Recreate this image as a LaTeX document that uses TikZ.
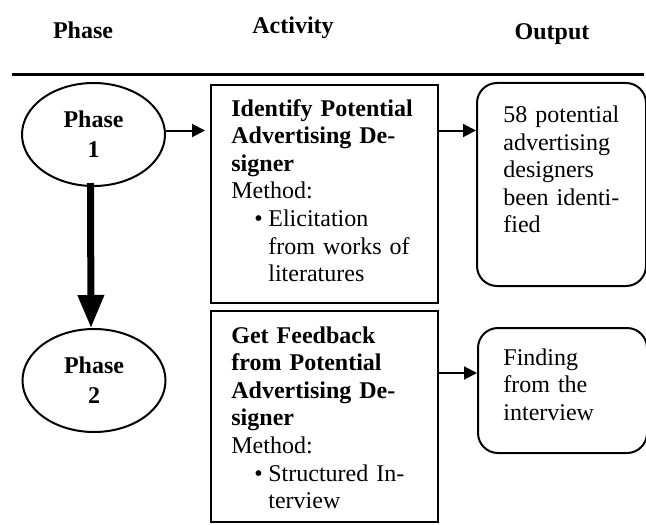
\documentclass[tikz,border=0pt]{standalone}
\usepackage{fontspec}
\setmainfont{Liberation Serif}
\usetikzlibrary{shapes.geometric,arrows.meta}
\begin{document}
\begin{tikzpicture}[x=0.5pt,y=-0.5pt,
  head/.style={anchor=base, inner sep=0pt, font=\fontsize{12}{13.8}\selectfont\bfseries},
  phase/.style={ellipse, draw, line width=1pt, minimum width=71.5pt, minimum height=51.5pt,
    inner sep=0pt, align=center, font=\fontsize{12}{15}\selectfont\bfseries},
  actbox/.style={draw, line width=1pt, anchor=north west, inner sep=0pt, minimum width=113.5pt},
  outbox/.style={draw, line width=1pt, rounded corners=10pt, anchor=north west, inner sep=0pt,
    minimum width=84.5pt},
  txt/.style={anchor=base west, inner sep=0pt, align=left, text width=#1,
    font=\fontsize{12}{13.8}\selectfont},
  link/.style={line width=1pt, -{Triangle[length=6.5pt,width=6.5pt]}},
  flow/.style={line width=3.5pt, -{Triangle[length=16.5pt,width=12.5pt]}}
]
\useasboundingbox (0,0) rectangle (646,524);

% column headings and rule
\node[head] (hphase) at (83,39) {Phase};
\node[head] (hact) at (293,34) {Activity};
\node[head] (hout) at (552,40) {Output};
\coordinate (rl) at (12,75);
\coordinate (rr) at (644,75);
\draw[line width=1.5pt] (rl) -- (rr);

% phases
\node[phase] (p1) at (93.5,134.5) {Phase\\1};
\node[phase] (p2) at (94,380.5) {Phase\\2};

% activity boxes
\node[actbox, minimum height=109pt] (act1) at (210,84) {};
\node[actbox, minimum height=105.5pt] (act2) at (210,310) {};
\node[txt=110pt] (act1t) at (231,116) {\textbf{Identify Potential}\\
  \textbf{Advertising De-}\\
  \textbf{signer}\\
  Method:\\
  \hspace*{11.5pt}\makebox[7pt][l]{\textbullet}Elicitation\\
  \hspace*{18.5pt}from works of\\
  \hspace*{18.5pt}literatures};
\node[txt=110pt] (act2t) at (231,343) {\textbf{Get Feedback}\\
  \textbf{from Potential}\\
  \textbf{Advertising De-}\\
  \textbf{signer}\\
  Method:\\
  \hspace*{11.5pt}\makebox[7pt][l]{\textbullet}Structured In-\\
  \hspace*{18.5pt}terview};

% output boxes
\node[outbox, minimum height=101.5pt] (out1) at (476,82) {};
\node[outbox, minimum height=62.5pt] (out2) at (477,327) {};
\node[txt=70pt] (out1t) at (503,122.5) {58 potential\\advertising\\designers\\been identi-\\fied};
\node[txt=70pt] (out2t) at (503,365) {Finding\\from the\\interview};

% connectors
\coordinate (r1) at (0,130.5);
\coordinate (r2) at (0,373);
\draw[link, shorten >=2.5pt] (p1.east |- r1) -- (act1.west |- r1);
\draw[link] (act1.east |- r1) -- (out1.west |- r1);
\draw[link] (act2.east |- r2) -- (out2.west |- r2);
\draw[flow, shorten <=-2pt] ([xshift=-1.5pt]p1.south) -- ([xshift=-1.5pt]p2.north);
\end{tikzpicture}
\end{document}
